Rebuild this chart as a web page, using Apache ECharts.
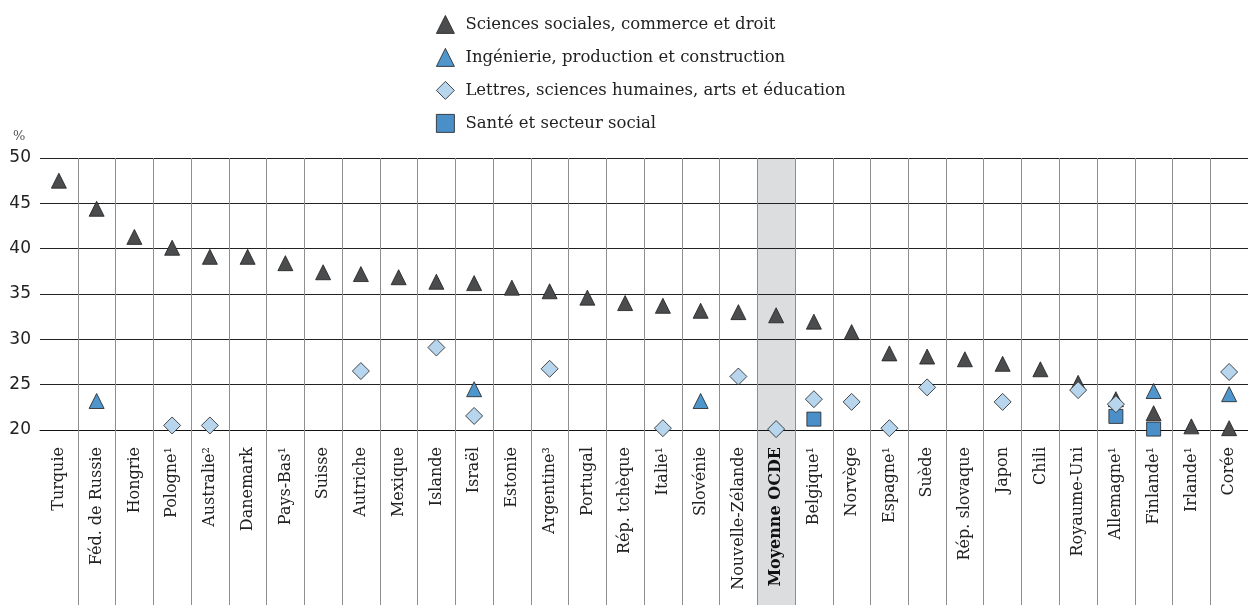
<!DOCTYPE html>
<html>
<head>
<meta charset="utf-8">
<script src="https://cdn.jsdelivr.net/npm/echarts@6/dist/echarts.min.js"></script>
<style>html,body{margin:0;padding:0;background:#fff;}#chart{width:1248px;height:605px;}</style>
</head>
<body>
<div id="chart"></div>
<script>
// ---- data ----
const categories = ['Turquie','Féd. de Russie','Hongrie','Pologne¹','Australie²','Danemark','Pays-Bas¹','Suisse','Autriche','Mexique','Islande','Israël','Estonie','Argentine³','Portugal','Rép. tchèque','Italie¹','Slovénie','Nouvelle-Zélande','Moyenne OCDE','Belgique¹','Norvège','Espagne¹','Suède','Rép. slovaque','Japon','Chili','Royaume-Uni','Allemagne¹','Finlande¹','Irlande¹','Corée'];
const socialSciences = [47.5,44.4,41.3,40.1,39.1,39.1,38.4,37.4,37.2,36.85,36.35,36.2,35.7,35.3,34.6,34.0,33.7,33.15,33.0,32.65,31.95,30.8,28.45,28.1,27.8,27.3,26.7,25.2,23.4,21.85,20.4,20.2];
const engineering = [null,23.2,null,null,null,null,null,null,null,null,null,24.5,null,null,null,null,null,23.2,null,null,null,null,null,null,null,null,null,null,null,24.3,null,23.95];
const humanities = [null,null,null,20.5,20.5,null,null,null,26.5,null,29.1,21.55,null,26.75,null,null,20.2,null,25.9,20.1,23.4,23.1,20.2,24.7,null,23.1,null,24.4,22.85,null,null,26.4];
const health = [null,null,null,null,null,null,null,null,null,null,null,null,null,null,null,null,null,null,null,null,21.2,null,null,null,null,null,null,null,21.5,20.1,null,null];
const seriesNames = ['Sciences sociales, commerce et droit','Ingénierie, production et construction','Lettres, sciences humaines, arts et éducation','Santé et secteur social'];
const yTicks = {min: 20, max: 50, interval: 5};
const highlightCategory = 'Moyenne OCDE';

const SERIF = '"DejaVu Serif", serif';
const bandData = categories.map(c => c === highlightCategory ? 1 : null);

const chart = echarts.init(document.getElementById('chart'));
chart.setOption({
  animation: false,
  title: {text: '%', left: 8, top: 125, textStyle: {fontFamily: SERIF, fontSize: 13, fontWeight: 'normal', color: '#555'}},
  legend: {
    orient: 'vertical', left: 431, top: 10, itemWidth: 18, itemHeight: 18, itemGap: 14.2,
    itemStyle: {borderWidth: 0.8, borderColor: '#1e1e1e'},
    textStyle: {fontFamily: SERIF, fontSize: 16.5, color: '#222', padding: [0,0,0,6]},
    data: seriesNames
  },
  grid: [
    {left: 40, right: 0, top: 158, bottom: 175},
    {left: 40, right: 0, top: 158, bottom: 0}
  ],
  xAxis: [
    {
      type: 'category', data: categories, gridIndex: 0, z: 3,
      axisLine: {show: true, lineStyle: {color: '#111', width: 1}},
      axisTick: {show: true, length: 176, interval: (i) => i !== 0, lineStyle: {color: '#8e8e8e', width: 1}},
      splitLine: {show: true, showMinLine: false, showMaxLine: false, interval: 0, lineStyle: {color: '#8e8e8e', width: 1}},
      axisLabel: {
        interval: 0, rotate: 90, margin: 17, fontFamily: SERIF, fontSize: 16, color: '#222',
        formatter: v => v === highlightCategory ? '{b|' + v + '}' : v,
        rich: {b: {fontFamily: SERIF, fontSize: 16, fontWeight: 'bold', color: '#111'}}
      }
    },
    {type: 'category', data: categories, gridIndex: 1, show: false}
  ],
  yAxis: [
    {
      type: 'value', gridIndex: 0, min: yTicks.min, max: yTicks.max, interval: yTicks.interval, z: 3,
      axisLine: {show: false}, axisTick: {show: false},
      splitLine: {show: true, lineStyle: {color: '#222', width: 1}},
      axisLabel: {fontFamily: '"DejaVu Sans", sans-serif', fontSize: 17, color: '#222', margin: 9}
    },
    {type: 'value', gridIndex: 1, min: 0, max: 1, show: false}
  ],
  series: [
    {type: 'bar', xAxisIndex: 1, yAxisIndex: 1, data: bandData, barWidth: '100%', z: 0, silent: true,
     itemStyle: {color: '#dcdddf'}, legendHoverLink: false},
    {name: seriesNames[0], type: 'scatter', data: socialSciences, symbol: 'triangle', symbolSize: 15, clip: false, z: 5,
     itemStyle: {color: '#4b4c4e', borderColor: '#1e1e1e', borderWidth: 0.8, opacity: 1}},
    {name: seriesNames[1], type: 'scatter', data: engineering, symbol: 'triangle', symbolSize: 15, clip: false, z: 6,
     itemStyle: {color: '#4f96cc', borderColor: '#1e1e1e', borderWidth: 0.8, opacity: 1}},
    {name: seriesNames[3], type: 'scatter', data: health, symbol: 'rect', symbolSize: 14, clip: false, z: 7,
     itemStyle: {color: '#4a8fc8', borderColor: '#1e1e1e', borderWidth: 0.8, opacity: 1}},
    {name: seriesNames[2], type: 'scatter', data: humanities, symbol: 'diamond', symbolSize: [17, 17], clip: false, z: 8,
     itemStyle: {color: '#b8d5ee', borderColor: '#1e1e1e', borderWidth: 0.8, opacity: 1}}
  ]
});
</script>
</body>
</html>
